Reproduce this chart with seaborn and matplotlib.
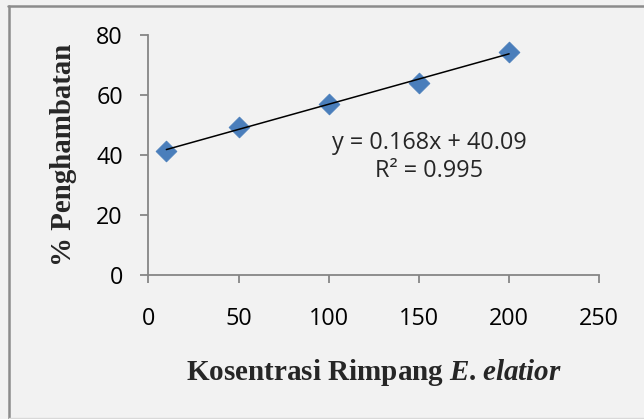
import matplotlib
matplotlib.use("Agg")
import matplotlib.pyplot as plt
from matplotlib.lines import Line2D
import seaborn as sns

# data
konsentrasi = [10, 50, 100, 150, 200]
penghambatan = [41.4, 49.4, 57.0, 64.1, 74.4]
x_ticks = [0, 50, 100, 150, 200, 250]
y_ticks = [0, 20, 40, 60, 80]
persamaan = "y = 0.168x + 40.09\nR\u00b2 = 0.995"

sns.set_style("white")
plt.rcParams["font.family"] = ["Open Sans", "DejaVu Sans"]
plt.rcParams["mathtext.fontset"] = "custom"
plt.rcParams["mathtext.rm"] = "Liberation Serif:bold"
plt.rcParams["mathtext.bfit"] = "Liberation Serif:italic:bold"

W, H = 644, 419
fig = plt.figure(figsize=(W / 100, H / 100), dpi=100, facecolor="#f2f2f2")
ax = fig.add_axes([148.3 / W, (H - 275) / H, 451 / W, 240 / H])
ax.set_facecolor("#f2f2f2")

sns.regplot(x=konsentrasi, y=penghambatan, ci=None, marker="D", ax=ax,
            scatter_kws={"s": 112, "color": "#4a7ebb", "edgecolor": "#4a7ebb",
                         "linewidths": 0.6, "alpha": 1},
            line_kws={"color": "black", "lw": 1.1})

ax.set_xlim(0, 250)
ax.set_ylim(0, 80)
ax.set_xticks(x_ticks)
ax.set_yticks(y_ticks)

for side in ["top", "right"]:
    ax.spines[side].set_visible(False)
for side in ["left", "bottom"]:
    ax.spines[side].set_color("#868686")
    ax.spines[side].set_linewidth(1.3)

ax.tick_params(axis="both", direction="out", length=5.8, width=1.3,
               bottom=True, left=True,
               color="#868686", labelsize=16.8, labelcolor="black")
ax.tick_params(axis="y", pad=12.5)
ax.tick_params(axis="x", pad=17.5)

ax.set_ylabel("% Penghambatan", family="Liberation Serif", fontweight="bold",
              fontsize=20.8)
ax.yaxis.set_label_coords(-0.158, 0.5)
# mathtext puts its own small gap after the dot
ax.set_xlabel(r"Kosentrasi Rimpang $\mathbfit{E.elatior}$",
              family="Liberation Serif", fontweight="bold", fontsize=21)
ax.xaxis.set_label_coords(0.5, -0.34)

ax.text(155.6, 39.3, persamaan, ha="center", va="center", fontsize=16.8,
        multialignment="center", linespacing=1.25)

# chart border like the Excel frame
fig.add_artist(Line2D([9 / W, 9 / W], [0, 1 - 6 / H], transform=fig.transFigure,
                      color="#8c8c8c", lw=1.8))
fig.add_artist(Line2D([8 / W, 1], [1 - 6 / H, 1 - 6 / H], transform=fig.transFigure,
                      color="#8c8c8c", lw=1.8))
fig.add_artist(Line2D([9 / W, 1], [1 / H, 1 / H], transform=fig.transFigure,
                      color="#d9d9d9", lw=1.0))

fig.savefig("out.png", dpi=100, facecolor=fig.get_facecolor())
